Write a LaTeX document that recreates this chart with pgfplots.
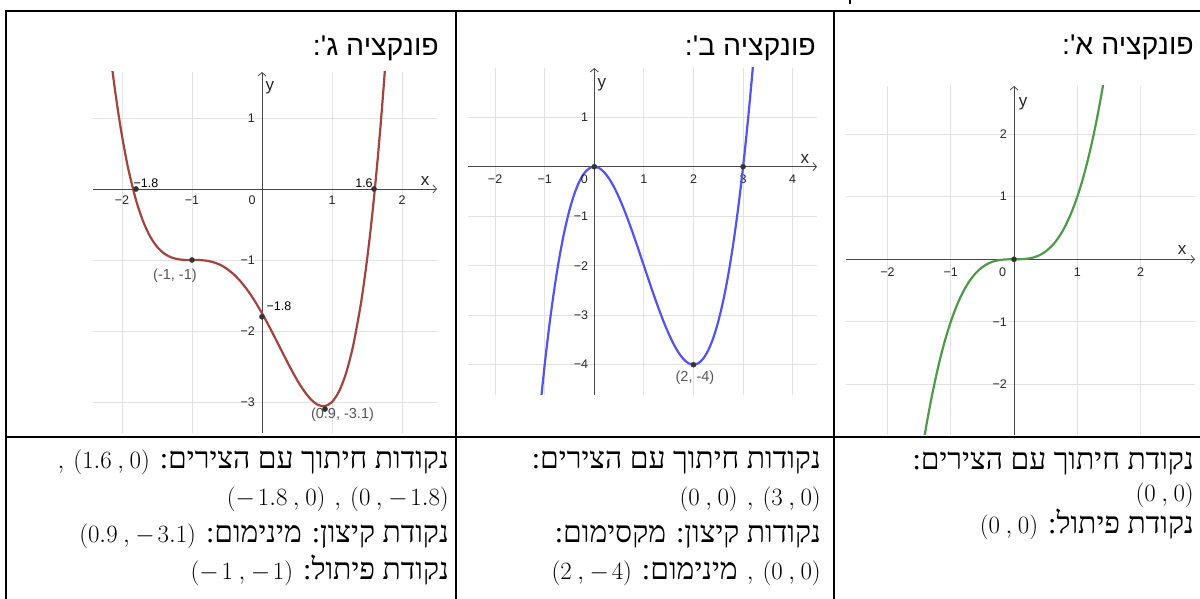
\documentclass[border=0pt]{standalone}
\usepackage{fontspec}
\usepackage{pgfplots}
\pgfplotsset{compat=1.18}
\usetikzlibrary{arrows.meta}
\TeXXeTstate=1
\newfontfamily\ggb{Liberation Sans}
\newfontfamily\hebsans[Script=Hebrew]{Liberation Sans}
\newfontfamily\hebserif[Script=Hebrew]{Liberation Serif}

\definecolor{gridc}{HTML}{E2E2E2}
\definecolor{axc}{HTML}{474747}
\definecolor{cgreen}{HTML}{4E9A48}
\definecolor{cblue}{HTML}{5252F5}
\definecolor{cred}{HTML}{A3433D}
\definecolor{dotc}{HTML}{333333}
\definecolor{lblc}{HTML}{555555}

\newcommand{\tickfont}{\ggb\fontsize{12.5}{12.5}\selectfont}
\newcommand{\xyfont}{\ggb\fontsize{17}{17}\selectfont}
\newcommand{\ptfont}{\ggb\fontsize{14.5}{14.5}\selectfont}
\newcommand{\titlefont}{\hebsans\fontsize{28.5}{28.5}\selectfont}
\newcommand{\bodyfont}{\hebserif\fontsize{30}{30}\selectfont}
% a point written as in the description lines
\newcommand{\mn}{{-}\mkern2mu}
\newcommand{\pnt}[2]{{\fontsize{28}{28}\selectfont$(#1\mkern4mu,\mkern1mu#2)$}}
\newcommand{\sep}{\hspace{9pt}{\fontsize{28}{28}\selectfont$,$}\hspace{9pt}}

\pgfplotsset{
  ggb/.style={
    scale only axis,
    axis lines=middle,
    axis line style={draw=axc, line width=0.8pt,
      -{Straight Barb[length=3.5pt,width=8pt,line width=0.8pt]}},
    grid=major,
    grid style={draw=gridc, line width=0.9pt},
    major tick length=0pt,
    tick style={draw=none},
    xticklabel style={font=\tickfont, text=black!85, inner sep=0pt,
      anchor=north, text height=9pt, text depth=0pt},
    yticklabel style={font=\tickfont, text=black!85, inner sep=0pt,
      anchor=east},
    clip=true,
  },
  dots/.style={only marks, mark=*, mark size=2.6pt,
    mark options={fill=dotc, draw=black!75, line width=0.4pt}},
}

\begin{document}
\begin{tikzpicture}[x=1pt,y=1pt]
\useasboundingbox (0,0) rectangle (1200,599);
\clip (0,0) rectangle (1200,599);

% ---------- function C (left cell) ----------
\begin{axis}[ggb, at={(93pt,166pt)}, anchor=south west,
  width=344pt, height=361pt,
  xmin=-2.414, xmax=2.5, ymin=-3.437, ymax=1.648,
  xtick={-2,-1,1,2}, xticklabels={−2,−1,1,2},
  ytick={-3,-2,-1,1}, yticklabels={−3,−2,−1,1},
  xticklabel style={yshift=-6.5pt},
  yticklabel style={xshift=-7pt}]
\addplot[cred, line width=2.2pt, smooth, no markers] coordinates {
(-2.2,2.197) (-2.15,1.776) (-2.1,1.396) (-2.05,1.055) (-2,0.75)
(-1.95,0.479) (-1.9,0.239) (-1.8,-0.155) (-1.7,-0.451) (-1.6,-0.665)
(-1.5,-0.813) (-1.4,-0.907) (-1.3,-0.962) (-1.2,-0.989) (-1.1,-0.999)
(-1,-1) (-0.9,-1.001) (-0.8,-1.009) (-0.7,-1.030) (-0.6,-1.067)
(-0.5,-1.125) (-0.4,-1.205) (-0.3,-1.309) (-0.2,-1.435) (-0.1,-1.583)
(0,-1.75) (0.1,-1.932) (0.2,-2.123) (0.3,-2.318) (0.4,-2.509)
(0.5,-2.688) (0.6,-2.843) (0.7,-2.965) (0.8,-3.041) (0.9,-3.058)
(1,-3.0) (1.1,-2.852) (1.2,-2.597) (1.3,-2.217) (1.4,-1.691)
(1.45,-1.368) (1.5,-1.0) (1.55,-0.585) (1.6,-0.121) (1.65,0.396)
(1.7,0.968) (1.75,1.600) (1.8,2.293)};
\addplot[dots] coordinates {(-1.8,0) (1.6,0) (0,-1.8) (-1,-1) (0.9,-3.1)};
\node[font=\tickfont] at (axis cs:-1.657,0.085) {−1.8};
\node[font=\tickfont] at (axis cs:1.457,0.085) {1.6};
\node[font=\tickfont] at (axis cs:0.243,-1.648) {−1.8};
\node[font=\ptfont, text=lblc] at (axis cs:-1.243,-1.225) {(-1, -1)};
\node[font=\ptfont, text=lblc] at (axis cs:1.15,-3.183) {(0.9, -3.1)};
\node[font=\tickfont, text=black!85] at (axis cs:-0.143,-0.155) {0};
\node[font=\xyfont, text=black!85] at (axis cs:2.33,0.113) {x};
\node[font=\xyfont, text=black!85] at (axis cs:0.114,1.42) {y};
\end{axis}

% ---------- function B (middle cell) ----------
\begin{axis}[ggb, at={(468pt,204pt)}, anchor=south west,
  width=349pt, height=327pt,
  xmin=-2.546, xmax=4.49, ymin=-4.612, ymax=1.994,
  xtick={-2,-1,1,2,3,4}, xticklabels={−2,−1,1,2,3,4},
  ytick={-4,-3,-2,-1,1}, yticklabels={−4,−3,−2,−1,1},
  xticklabel style={yshift=-8pt},
  yticklabel style={xshift=-6pt}]
\addplot[cblue, line width=2.2pt, smooth, no markers] coordinates {
(-1.1,-4.961) (-1.0,-4) (-0.9,-3.159) (-0.8,-2.432) (-0.7,-1.813)
(-0.6,-1.296) (-0.5,-0.875) (-0.4,-0.544) (-0.3,-0.297) (-0.2,-0.128)
(-0.1,-0.031) (0,0) (0.1,-0.029) (0.2,-0.112) (0.3,-0.243)
(0.4,-0.416) (0.5,-0.625) (0.6,-0.864) (0.7,-1.127) (0.8,-1.408)
(0.9,-1.701) (1.0,-2) (1.1,-2.299) (1.2,-2.592) (1.3,-2.873)
(1.4,-3.136) (1.5,-3.375) (1.6,-3.584) (1.7,-3.757) (1.8,-3.888)
(1.9,-3.971) (2.0,-4) (2.1,-3.969) (2.2,-3.872) (2.3,-3.703)
(2.4,-3.456) (2.5,-3.125) (2.6,-2.704) (2.7,-2.187) (2.8,-1.568)
(2.9,-0.841) (3.0,0) (3.1,0.961) (3.2,2.048) (3.3,3.267)};
\addplot[dots] coordinates {(0,0) (3,0) (2,-4)};
\node[font=\ptfont, text=lblc] at (axis cs:2.03,-4.27) {(2, -4)};
\node[font=\tickfont, text=black!85] at (axis cs:-0.2,-0.255) {0};
\node[font=\xyfont, text=black!85] at (axis cs:4.245,0.156) {x};
\node[font=\xyfont, text=black!85] at (axis cs:0.155,1.65) {y};
\end{axis}

% ---------- function A (right cell) ----------
\begin{axis}[ggb, at={(846pt,164pt)}, anchor=south west,
  width=349pt, height=349pt,
  xmin=-2.654, xmax=2.859, ymin=-2.807, ymax=2.768,
  xtick={-2,-1,1,2}, xticklabels={−2,−1,1,2},
  ytick={-2,-1,1,2}, yticklabels={−2,−1,1,2},
  xticklabel style={yshift=-8.5pt},
  yticklabel style={xshift=-7pt}]
\addplot[cgreen, line width=2.2pt, smooth, no markers] coordinates {
(-1.5,-3.375) (-1.4,-2.744) (-1.3,-2.197) (-1.2,-1.728) (-1.1,-1.331)
(-1.0,-1) (-0.9,-0.729) (-0.8,-0.512) (-0.7,-0.343) (-0.6,-0.216)
(-0.5,-0.125) (-0.4,-0.064) (-0.3,-0.027) (-0.2,-0.008) (-0.1,-0.001)
(0,0) (0.1,0.001) (0.2,0.008) (0.3,0.027) (0.4,0.064) (0.5,0.125)
(0.6,0.216) (0.7,0.343) (0.8,0.512) (0.9,0.729) (1.0,1)
(1.1,1.331) (1.2,1.728) (1.3,2.197) (1.4,2.744) (1.5,3.375)};
\addplot[dots] coordinates {(0,0)};
\node[font=\tickfont, text=black!85] at (axis cs:-0.18,-0.214) {0};
\node[font=\xyfont, text=black!85] at (axis cs:2.654,0.149) {x};
\node[font=\xyfont, text=black!85] at (axis cs:0.142,2.48) {y};
\end{axis}

% ---------- table rules ----------
\begin{scope}[line width=2pt]
\draw (5,588) -- (1200,588);
\draw (5,161.5) -- (1200,161.5);
\draw (6,589) -- (6,0);
\draw (456,589) -- (456,0);
\draw (834,589) -- (834,0);
\end{scope}
\draw[line width=1.5pt] (850,599) -- (850,595);

% ---------- titles ----------
\node[anchor=base east, inner sep=0pt] at (439,543) {\titlefont\beginR פונקציה ג':\endR};
\node[anchor=base east, inner sep=0pt] at (816,543) {\titlefont\beginR פונקציה ב':\endR};
\node[anchor=base east, inner sep=0pt] at (1194,544) {\titlefont\beginR פונקציה א':\endR};

% ---------- descriptions ----------
\node[anchor=base east, inner sep=0pt] at (449,130) {\bodyfont\beginR נקודות חיתוך עם הצירים: \beginL\pnt{1.6}{0}\endL\sep\endR};
\node[anchor=base east, inner sep=0pt] at (449,93) {\bodyfont\pnt{\mn1.8}{0}\sep\pnt{0}{\mn1.8}};
\node[anchor=base east, inner sep=0pt] at (449,56) {\bodyfont\beginR נקודת קיצון: מינימום: \beginL\pnt{0.9}{\mn3.1}\endL\endR};
\node[anchor=base east, inner sep=0pt] at (449,19) {\bodyfont\beginR נקודת פיתול: \beginL\pnt{\mn1}{\mn1}\endL\endR};

\node[anchor=base east, inner sep=0pt] at (821,130) {\bodyfont\beginR נקודות חיתוך עם הצירים:\endR};
\node[anchor=base east, inner sep=0pt] at (821,93) {\bodyfont\pnt{0}{0}\sep\pnt{3}{0}};
\node[anchor=base east, inner sep=0pt] at (821,56) {\bodyfont\beginR נקודות קיצון: מקסימום:\endR};
\node[anchor=base east, inner sep=0pt] at (821,19) {\bodyfont\beginR\beginL\pnt{0}{0}\endL\sep מינימום: \beginL\pnt{2}{\mn4}\endL\endR};

\node[anchor=base east, inner sep=0pt] at (1194,129) {\bodyfont\beginR נקודת חיתוך עם הצירים:\endR};
\node[anchor=base east, inner sep=0pt] at (1194,97) {\bodyfont\pnt{0}{0}};
\node[anchor=base east, inner sep=0pt] at (1194,65) {\bodyfont\beginR נקודת פיתול: \beginL\pnt{0}{0}\endL\endR};
\end{tikzpicture}
\end{document}
